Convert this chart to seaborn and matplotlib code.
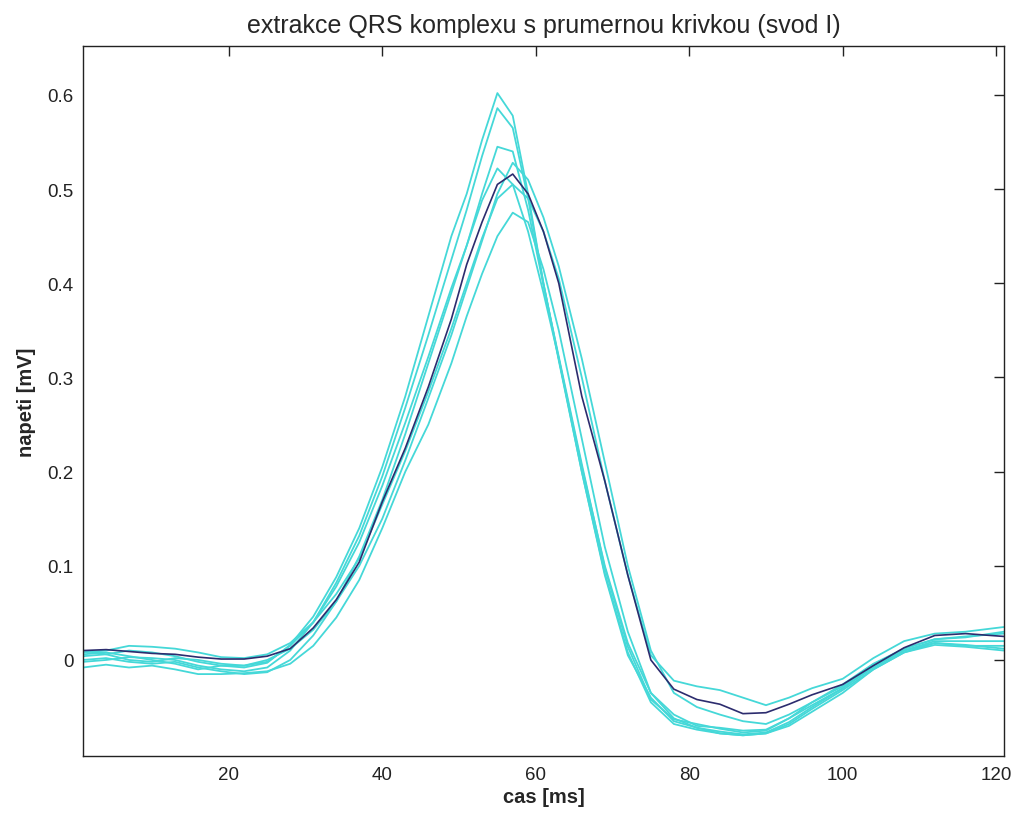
import matplotlib
matplotlib.use("Agg")
import matplotlib.pyplot as plt
import seaborn as sns
import numpy as np

# time axis [ms]
time_ms = [1, 4, 7, 10, 13, 16, 19, 22, 25, 28, 31, 34, 37, 40, 43, 46, 49, 51, 53, 55,
           57, 59, 61, 63, 66, 69, 72, 75, 78, 81, 84, 87, 90, 93, 96, 100, 104, 108, 112, 116, 121]

# individual QRS complexes [mV]
beat_a = [0.004, 0.006, 0.010, 0.008, 0.004, -0.002, -0.006, -0.008, -0.003, 0.016, 0.046, 0.088, 0.140, 0.205,
          0.280, 0.365, 0.450, 0.495, 0.552, 0.602, 0.578, 0.495, 0.400, 0.320, 0.200, 0.090, 0.005, -0.040,
          -0.065, -0.072, -0.076, -0.079, -0.077, -0.066, -0.050, -0.030, -0.008, 0.010, 0.020, 0.020, 0.020]
beat_b = [-0.002, 0.000, 0.003, 0.002, 0.000, -0.006, -0.010, -0.012, -0.008, 0.010, 0.040, 0.082, 0.132, 0.195,
          0.268, 0.345, 0.425, 0.478, 0.535, 0.586, 0.565, 0.490, 0.400, 0.318, 0.200, 0.092, 0.008, -0.045,
          -0.068, -0.074, -0.078, -0.080, -0.078, -0.068, -0.052, -0.032, -0.010, 0.008, 0.018, 0.016, 0.012]
beat_c = [0.000, 0.002, -0.002, -0.004, -0.002, -0.008, -0.012, -0.015, -0.013, 0.000, 0.026, 0.062, 0.110, 0.170,
          0.240, 0.315, 0.390, 0.440, 0.495, 0.545, 0.540, 0.478, 0.398, 0.322, 0.208, 0.098, 0.014, -0.042,
          -0.063, -0.068, -0.073, -0.077, -0.075, -0.062, -0.045, -0.026, -0.004, 0.012, 0.022, 0.024, 0.030]
beat_d = [0.006, 0.008, 0.004, 0.000, -0.004, -0.010, -0.006, -0.006, -0.002, 0.015, 0.040, 0.078, 0.125, 0.185,
          0.252, 0.322, 0.395, 0.440, 0.488, 0.522, 0.505, 0.455, 0.390, 0.320, 0.205, 0.100, 0.018, -0.035,
          -0.058, -0.070, -0.072, -0.075, -0.074, -0.062, -0.048, -0.030, -0.006, 0.010, 0.018, 0.015, 0.015]
beat_e = [0.008, 0.010, 0.015, 0.014, 0.012, 0.008, 0.003, 0.002, 0.006, 0.018, 0.040, 0.070, 0.108, 0.165,
          0.222, 0.285, 0.352, 0.400, 0.448, 0.490, 0.505, 0.490, 0.455, 0.405, 0.300, 0.190, 0.090, 0.005,
          -0.022, -0.028, -0.032, -0.040, -0.048, -0.040, -0.030, -0.020, 0.002, 0.020, 0.028, 0.030, 0.035]
beat_f = [-0.008, -0.005, -0.008, -0.006, -0.010, -0.015, -0.015, -0.014, -0.012, -0.004, 0.015, 0.045, 0.085, 0.140,
          0.200, 0.250, 0.315, 0.365, 0.410, 0.450, 0.475, 0.465, 0.415, 0.350, 0.235, 0.120, 0.030, -0.035,
          -0.062, -0.072, -0.078, -0.080, -0.078, -0.070, -0.055, -0.035, -0.010, 0.008, 0.016, 0.014, 0.010]
beat_g = [0.010, 0.006, 0.000, -0.002, 0.002, 0.000, -0.004, -0.006, 0.000, 0.012, 0.032, 0.062, 0.100, 0.150,
          0.212, 0.278, 0.345, 0.395, 0.445, 0.495, 0.528, 0.510, 0.470, 0.418, 0.320, 0.210, 0.100, 0.010,
          -0.035, -0.050, -0.058, -0.065, -0.068, -0.058, -0.045, -0.028, -0.005, 0.012, 0.022, 0.025, 0.028]

# averaged curve [mV]
mean_curve = [0.010, 0.011, 0.009, 0.007, 0.006, 0.003, 0.001, 0.001, 0.004, 0.012, 0.034, 0.064, 0.104, 0.168,
              0.225, 0.290, 0.362, 0.420, 0.465, 0.505, 0.516, 0.495, 0.455, 0.400, 0.280, 0.190, 0.090, 0.000,
              -0.031, -0.042, -0.047, -0.057, -0.056, -0.047, -0.037, -0.026, -0.006, 0.013, 0.026, 0.028, 0.025]

beats = [beat_a, beat_b, beat_c, beat_d, beat_e, beat_f, beat_g]

x_ticks = [20, 40, 60, 80, 100, 120]
y_ticks = [0, 0.1, 0.2, 0.3, 0.4, 0.5, 0.6]
y_tick_labels = ["0", "0.1", "0.2", "0.3", "0.4", "0.5", "0.6"]

sns.set_style("white")
plt.rcParams['font.family'] = ['Liberation Sans', 'DejaVu Sans']

fig = plt.figure(figsize=(10.15, 8.2), dpi=100)
ax = fig.add_axes([0.0818, 0.0768, 0.9072, 0.8659])

cyan = "#45d8d8"
for b in beats:
    sns.lineplot(x=time_ms, y=b, color=cyan, linewidth=1.3, ax=ax)
sns.lineplot(x=time_ms, y=mean_curve, color="#2c2c6e", linewidth=1.2, ax=ax)

ax.set_xlim(1, 121)
ax.set_ylim(-0.102, 0.652)
ax.set_xticks(x_ticks)
ax.set_xticklabels([str(t) for t in x_ticks])
ax.set_yticks(y_ticks)
ax.set_yticklabels(y_tick_labels)
ax.tick_params(direction="in", length=7, width=1, top=True, right=True, pad=7,
               labelsize=13.5, colors="#222222", labelcolor="#222222")
for s in ax.spines.values():
    s.set_color("#222222")
    s.set_linewidth(1.0)
    s.set_visible(True)

ax.set_title("extrakce QRS komplexu s prumernou krivkou (svod I)", fontsize=18, pad=10)
ax.set_xlabel("cas [ms]", fontsize=14.5, fontweight="bold", labelpad=3)
ax.set_ylabel("napeti [mV]", fontsize=14.5, fontweight="bold", labelpad=8)

fig.savefig("out.png", dpi=100, facecolor="white")
